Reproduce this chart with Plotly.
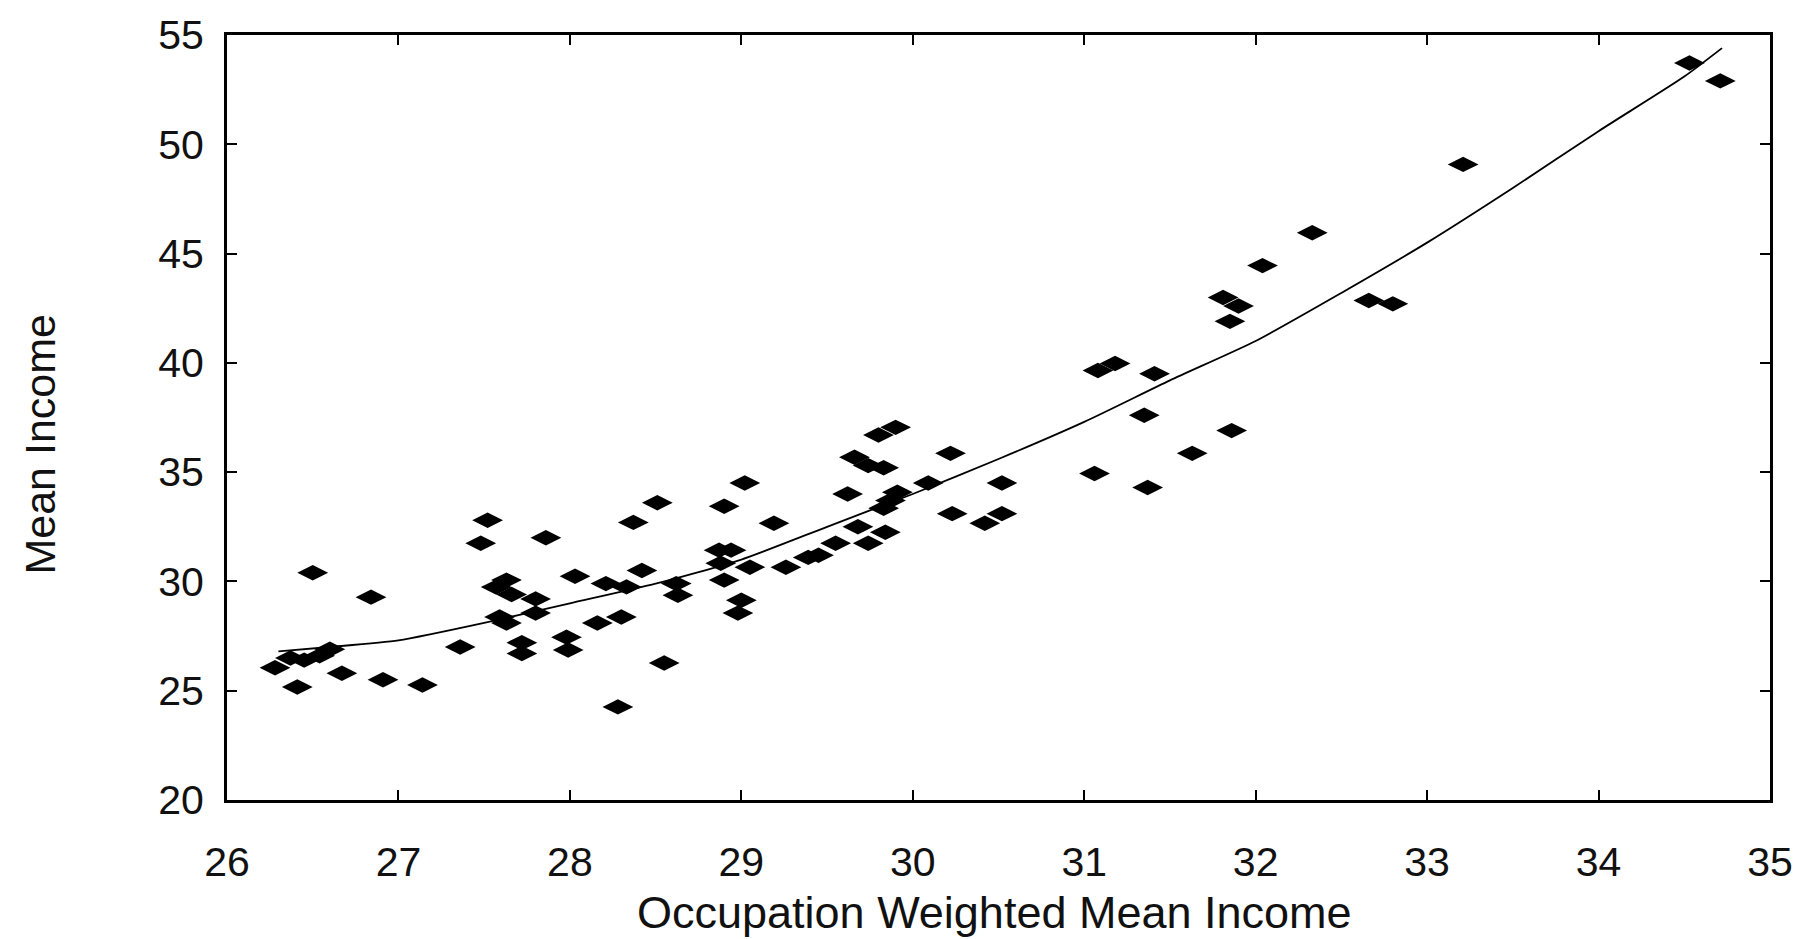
import plotly.graph_objects as go

# Observed occupations: occupation-weighted mean income vs. mean income
occ_weighted_income = [
    26.28, 26.37, 26.45, 26.54, 26.60, 26.41, 26.50, 26.67, 26.84, 26.91,
    27.14, 27.36, 27.48, 27.52, 27.57, 27.63, 27.66, 27.80, 27.80, 27.59,
    27.63, 27.72, 27.72, 27.86, 27.98, 27.99, 28.03, 28.16, 28.30, 28.21,
    28.33, 28.28, 28.37, 28.42, 28.51, 28.55, 28.62, 28.63, 28.87, 28.94,
    28.88, 28.90, 28.90, 29.02, 29.05, 29.00, 28.98, 29.19, 29.26, 29.39,
    29.45, 29.55, 29.62, 29.66, 29.74, 29.83, 29.80, 29.90, 29.68, 29.74,
    29.84, 29.83, 29.87, 29.91, 30.09, 30.22, 30.23, 30.42, 30.52, 30.52,
    31.06, 31.08, 31.18, 31.35, 31.37, 31.41, 31.63, 31.81, 31.85, 31.90,
    31.86, 32.04, 32.33, 32.66, 32.80, 33.21, 34.53, 34.71,
]
mean_income = [
    26.05, 26.50, 26.40, 26.60, 26.90, 25.17, 30.40, 25.80, 29.28, 25.50,
    25.26, 27.00, 31.75, 32.80, 29.74, 30.06, 29.40, 29.20, 28.55, 28.37,
    28.10, 27.20, 26.70, 32.00, 27.45, 26.86, 30.24, 28.10, 28.37, 29.90,
    29.75, 24.26, 32.70, 30.50, 33.60, 26.27, 29.90, 29.37, 31.43, 31.43,
    30.83, 30.06, 33.44, 34.50, 30.65, 29.14, 28.55, 32.66, 30.65, 31.10,
    31.20, 31.75, 34.00, 35.68, 35.30, 35.20, 36.70, 37.05, 32.50, 31.75,
    32.25, 33.35, 33.70, 34.08, 34.50, 35.86, 33.10, 32.66, 33.10, 34.50,
    34.94, 39.65, 39.97, 37.60, 34.30, 39.50, 35.86, 42.99, 41.90, 42.60,
    36.90, 44.45, 45.95, 42.85, 42.70, 49.08, 53.72, 52.90,
]

# Fitted curve
fit_x = [26.30, 26.60, 27.00, 27.50, 28.00, 28.50, 29.00, 29.50, 30.00,
         30.50, 31.00, 31.50, 32.00, 32.50, 33.00, 33.50, 34.00, 34.50, 34.72]
fit_y = [26.80, 27.00, 27.30, 28.10, 29.00, 29.90, 31.00, 32.50, 34.00,
         35.60, 37.30, 39.20, 41.00, 43.20, 45.50, 48.00, 50.60, 53.10, 54.40]

x_ticks = [26, 27, 28, 29, 30, 31, 32, 33, 34, 35]
y_ticks = [20, 25, 30, 35, 40, 45, 50, 55]

FONT = "Liberation Sans, Arial, Helvetica, sans-serif"
INK = "#111111"

fig = go.Figure()
fig.add_trace(go.Scatter(
    x=occ_weighted_income, y=mean_income, mode="markers",
    marker=dict(symbol="diamond-wide", size=22, color="black",
                line=dict(width=0)),
    showlegend=False, hoverinfo="x+y",
))
fig.add_trace(go.Scatter(
    x=fit_x, y=fit_y, mode="lines",
    line=dict(color="black", width=1.8, shape="spline", smoothing=0.6),
    showlegend=False, hoverinfo="skip",
))

axis_common = dict(
    showgrid=False, zeroline=False,
    showline=True, linecolor="black", linewidth=3, mirror="ticks",
    ticks="inside", ticklen=10, tickwidth=2, tickcolor="black",
    tickfont=dict(family=FONT, size=41, color=INK),
)

fig.update_xaxes(
    range=[26, 35], tickvals=x_ticks, ticktext=[str(v) for v in x_ticks],
    ticklabelstandoff=24,
    **axis_common,
)
fig.update_yaxes(
    range=[20, 55], tickvals=y_ticks, ticktext=[str(v) for v in y_ticks],
    ticklabelstandoff=12,
    **axis_common,
)

# Axis titles
fig.add_annotation(
    text="Occupation Weighted Mean Income", xref="paper", yref="paper",
    x=0.4974, y=-0.147, xanchor="center", yanchor="middle", showarrow=False,
    font=dict(family=FONT, size=45, color=INK),
)
fig.add_annotation(
    text="Mean Income", xref="paper", yref="paper", textangle=-90,
    x=-0.121, y=0.465, xanchor="center", yanchor="middle", showarrow=False,
    font=dict(family=FONT, size=43, color=INK),
)

fig.update_layout(
    width=1805, height=939,
    margin=dict(l=227, r=30, t=34, b=139),
    paper_bgcolor="white", plot_bgcolor="white",
)

fig.write_html("out.html")
